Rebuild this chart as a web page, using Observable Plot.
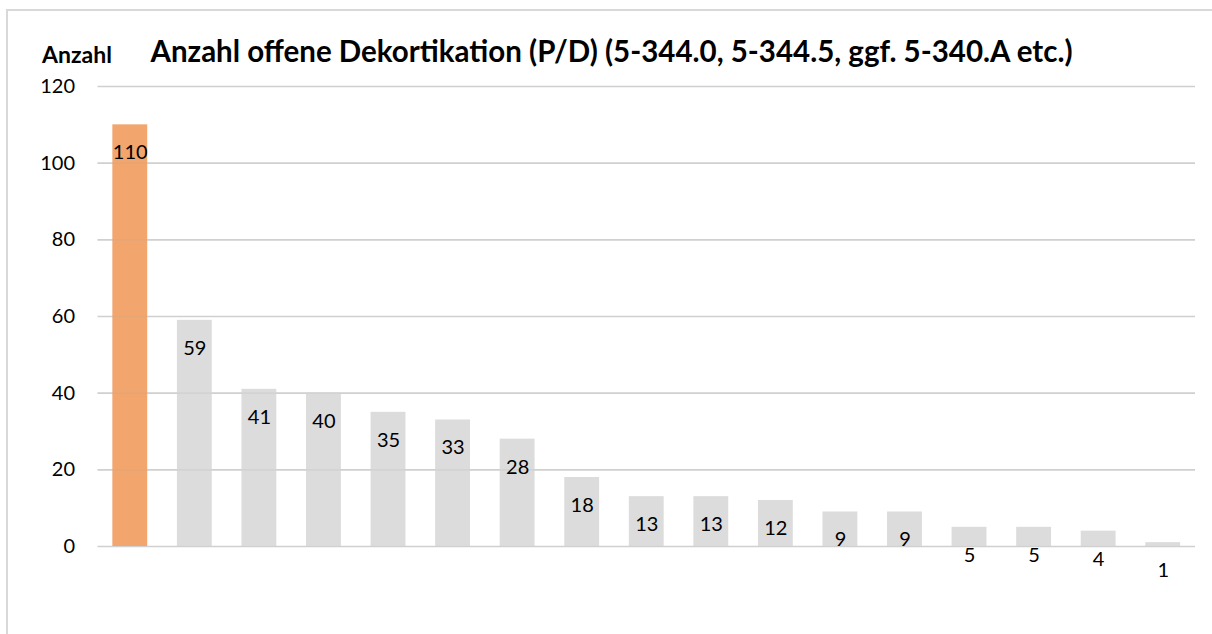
<!DOCTYPE html>
<html><head><meta charset="utf-8">
<script src="https://cdn.jsdelivr.net/npm/d3@7"></script>
<script src="https://cdn.jsdelivr.net/npm/@observablehq/plot@0.6"></script>
<style>
body{margin:0;background:#fff;}
#wrap{position:relative;width:1212px;height:634px;overflow:hidden;font-family:Lato,sans-serif;color:#000;}
#frame{position:absolute;left:6px;top:9px;width:1400px;height:800px;border:2px solid #d9d9d9;box-sizing:border-box;}
#chart{position:absolute;left:0;top:0;}
.t{position:absolute;white-space:nowrap;font-weight:bold;line-height:1;}
#title{left:611.5px;top:36px;transform:translateX(-50%);font-size:29.5px;}
#ylab{left:42px;top:43px;font-size:23px;}
</style></head>
<body>
<div id="wrap">
  <div id="frame"></div>
  <div id="chart"></div>
  <div class="t" id="ylab">Anzahl</div>
  <div class="t" id="title">Anzahl offene Dekortikation (P/D) (5-344.0, 5-344.5, ggf. 5-340.A etc.)</div>
</div>
<script>
const categories = ["1","2","3","4","5","6","7","8","9","10","11","12","13","14","15","16","17"];
const values = [110, 59, 41, 40, 35, 33, 28, 18, 13, 13, 12, 9, 9, 5, 5, 4, 1];
const yTicks = [0, 20, 40, 60, 80, 100, 120];

const data = categories.map((c, i) => ({cat: c, value: values[i]}));
const highlight = categories[0];

const chart = Plot.plot({
  width: 1212,
  height: 634,
  marginTop: 86,
  marginBottom: 88,
  marginLeft: 97.5,
  marginRight: 17,
  style: {fontFamily: "Lato, sans-serif", fontSize: "20px", color: "#000", background: "transparent"},
  x: {domain: categories, paddingInner: 0.46, paddingOuter: 0.23, round: false, axis: null},
  y: {domain: [0, 120], axis: null},
  marks: [
    Plot.gridY(yTicks, {stroke: "#d9d9d9", strokeOpacity: 1, strokeWidth: 1.7}),
    Plot.barY(data, {x: "cat", y: "value", fill: d => d.cat === highlight ? "#f2a66e" : "#dcdcdc"}),
    Plot.gridY(yTicks, {stroke: "#a0a0a0", strokeOpacity: 0.15, strokeWidth: 1.7}),
    Plot.axisY(yTicks, {tickSize: 0, tickPadding: 23, fontSize: 20, label: null, fill: "#000"}),
    Plot.text(data, {x: "cat", y: "value", text: d => String(d.value), dy: 28, fontSize: 20, fill: "#000"})
  ]
});
document.getElementById("chart").appendChild(chart);
</script>
</body></html>
